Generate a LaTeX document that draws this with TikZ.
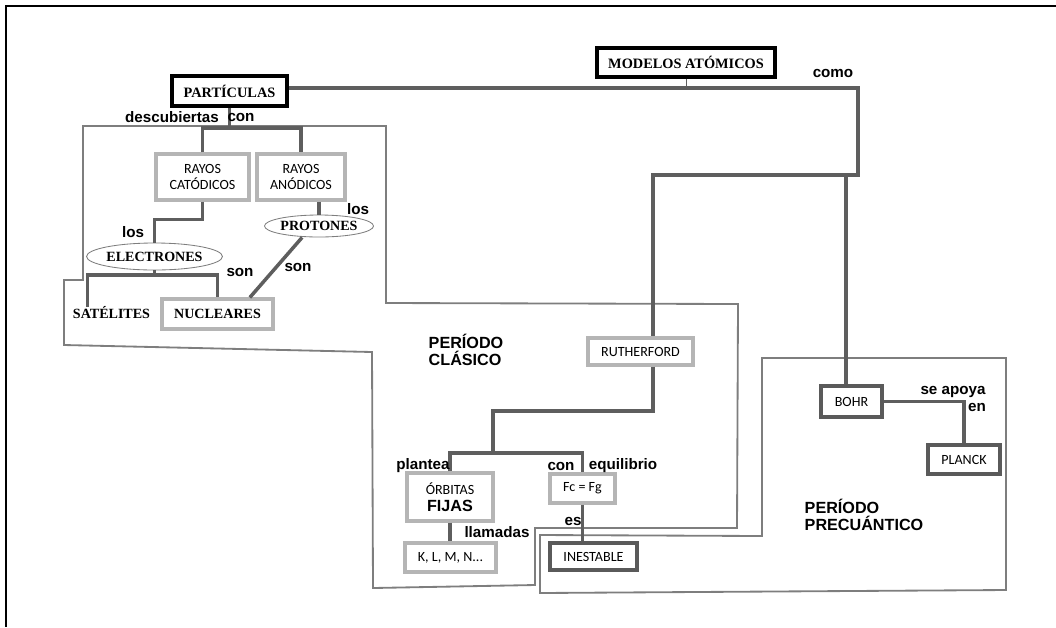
\documentclass[tikz,border=0pt]{standalone}
\usepackage{fontspec}
\setsansfont{Liberation Sans}
\newfontfamily\serifb{Liberation Serif}
\newfontfamily\calib{Carlito}
\usepackage{tikz}
\usetikzlibrary{shapes.geometric}
\definecolor{conncol}{HTML}{5E5E5E}
\definecolor{regcol}{HTML}{7E7E7E}
\definecolor{lightbox}{HTML}{B5B5B5}
\definecolor{darkbox}{HTML}{5A5A5A}

\begin{document}
\begin{tikzpicture}[x=0.025cm, y=-0.025cm,
  sz/.style 2 args={minimum width=#1*0.025cm, minimum height=#2*0.025cm},
  conn/.style={line width=2.5pt, conncol},
  thinconn/.style={line width=0.7pt, conncol},
  region/.style={line width=1.3pt, regcol},
  lbl/.style={inner sep=0pt, font=\sffamily\bfseries\fontsize{10.8}{11}\selectfont},
  period/.style={inner sep=0pt, align=left, font=\sffamily\bfseries\fontsize{11.5}{12}\selectfont},
  topbox/.style={draw=black, line width=2.4pt, inner sep=0pt, font=\serifb\bfseries\fontsize{10.2}{11}\selectfont},
  serifconc/.style={inner sep=0pt, font=\serifb\bfseries\fontsize{10}{11}\selectfont},
  oval/.style={ellipse, draw=regcol, line width=0.6pt, inner sep=0pt, font=\serifb\bfseries\fontsize{10}{11}\selectfont},
  litebox/.style={draw=lightbox, line width=2.2pt, inner sep=0pt, align=center, font=\calib\fontsize{10}{12}\selectfont},
  darkbox/.style={draw=darkbox, line width=2.2pt, inner sep=0pt, align=center, font=\calib\fontsize{10}{12}\selectfont}]
\useasboundingbox (0,0) rectangle (1056,627);

\draw[black, line width=1.2pt] (1056,6) -- (6,6) -- (6,627);

\draw[region] (83,126) -- (386,126) -- (386,303) -- (738,304) -- (737,528) -- (535,528) -- (535,585)
  -- (373,588) -- (372,352) -- (64,345) -- (64,280) -- (83,280) -- cycle;
\draw[region] (762,358) -- (1006,358) -- (1006,590) -- (540,593) -- (540,535) -- (762,536) -- cycle;

\node[topbox, sz={115}{30}] (part) at (229.5,91) {PARTÍCULAS};
\node[topbox, sz={178}{29}] (modelos) at (686,62.5) {MODELOS ATÓMICOS};

\node[litebox, sz={93}{46}] (catod) at (202.5,177) {RAYOS\\CATÓDICOS};
\node[litebox, sz={88}{46}] (anod) at (301,177) {RAYOS\\ANÓDICOS};
\node[oval, sz={117}{27}] (elec) at (154.5,256.5) {ELECTRONES};
\node[oval, sz={98}{22}] (prot) at (319,226) {PROTONES};
\node[serifconc] (sat) at (111.5,313) {SATÉLITES};
\node[litebox, sz={111}{30}, font=\serifb\bfseries\fontsize{10}{11}\selectfont] (nucl) at (217.5,314) {NUCLEARES};

\node[litebox, sz={105}{27}] (ruth) at (640.5,351.5) {RUTHERFORD};
\node[litebox, sz={86}{48}] (orb) at (450,497) {ÓRBITAS\\[0pt]{\sffamily\bfseries\fontsize{11.5}{12}\selectfont FIJAS}};
\node[litebox, sz={65}{29}] (fc) at (582.5,488.5) {Fc = Fg};
\node[litebox, sz={91}{29}] (klm) at (450.5,557.5) {K, L, M, N...};
\node[darkbox, sz={87}{27}] (inest) at (593.5,556.5) {INESTABLE};

\node[darkbox, sz={61}{31}] (bohr) at (851.5,401.5) {BOHR};
\node[darkbox, sz={72}{29}] (planck) at (964,459.5) {PLANCK};

\node[period] (clasico) at (466,350) {PERÍODO\\CLÁSICO};
\node[period] (precuant) at (864,515) {PERÍODO\\PRECUÁNTICO};

\coordinate (como) at (858,88);
\coordinate (split) at (858,175);
\coordinate (rv) at (653,175);
\coordinate (bv) at (846,175);
\coordinate (desc) at (229.5,128);
\coordinate (elbar) at (154.5,275);
\coordinate (rb) at (493,411);
\coordinate (rs) at (493,453);

\draw[conn] (part.east |- como) -- (como) -- (split) -- (rv) -- (rv |- ruth.north);
\draw[conn] (bv) -- (bv |- bohr.north);
\draw[thinconn] (modelos.south) -- (modelos.south |- como);
\draw[conn] (part.south) -- (desc);
\draw[conn] (catod.north) |- (desc) -| (anod.north);
\draw[conn] (catod.south) -- ++(0,18) -| (elec.north);
\draw[conn] (prot.north |- anod.south) -- (prot.north);
\draw[conn] (elec.south) -- (elbar);
\draw[conn] ([xshift=-17pt]sat.north) |- (elbar) -| (nucl.north);
\draw[conn] ([xshift=-12pt]prot.south) -- ([xshift=23pt]nucl.north);
\draw[conn] (ruth.south -| rv) |- (rb) -- (rs);
\draw[conn] (orb.north) |- (rs) -| (fc.north);
\draw[conn] (orb.south) -- (orb.south |- klm.north);
\draw[conn] (fc.south) -- (fc.south |- inest.north);
\draw[conn] (bohr.east) -| (planck.north);

\node[lbl] (lcomo) at (833,73) {como};
\node[lbl] (ldesc) at (172,117) {descubiertas};
\node[lbl] (lcon) at (241,117) {con};
\node[lbl] (llos) at (133,232) {los};
\node[lbl] (llos2) at (358,209) {los};
\node[lbl] (lson) at (240,272) {son};
\node[lbl] (lson2) at (298,267) {son};
\node[lbl] (lplan) at (423,466) {plantea};
\node[lbl] (lcon2) at (561,466) {con};
\node[lbl] (lequi) at (623,466) {equilibrio};
\node[lbl] (lllam) at (497,532) {llamadas};
\node[lbl] (les) at (573,521) {es};
\node[lbl] (lapoya) at (953,392) {se apoya};
\node[lbl] (len) at (977,407) {en};
\end{tikzpicture}
\end{document}
